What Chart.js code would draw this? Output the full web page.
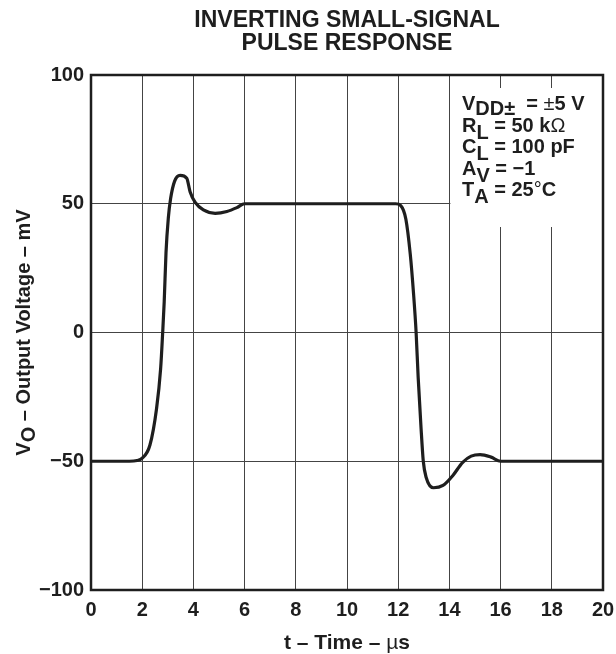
<!DOCTYPE html>
<html>
<head>
<meta charset="utf-8">
<script src="https://cdn.jsdelivr.net/npm/chart.js@4.4.1/dist/chart.umd.min.js"></script>
<style>
  html, body { margin: 0; padding: 0; background: #fff; }
</style>
</head>
<body>
<canvas id="chart" width="616" height="654"></canvas>
<script>
// Inverting small-signal pulse response: output voltage (mV) vs time (us)
const timeUs = [0, 1.5, 1.8, 2.0, 2.3, 2.56, 2.72, 2.8, 2.86, 2.93, 3.02, 3.11, 3.26, 3.48, 3.74, 3.87,
  4.07, 4.39, 4.85, 5.31, 5.7, 6.0, 11.9, 12.1, 12.3, 12.47, 12.6, 12.7, 12.78, 12.89, 12.98, 13.09,
  13.38, 13.75, 14.13, 14.52, 14.85, 15.2, 15.63, 16.0, 20];
const outputMv = [-50, -50, -49.7, -48.8, -43.8, -29.6, -14, 0, 12, 31, 44.4, 52, 58.6, 61, 59.9, 54.7,
  50.5, 47.6, 46.3, 47, 48.5, 50, 50, 49.3, 44, 30.5, 15, 0, -17.4, -36.7, -50, -56.2,
  -60.3, -59.4, -55.6, -50.4, -48, -47.4, -48.4, -50, -50];

const xTicks = [0, 2, 4, 6, 8, 10, 12, 14, 16, 18, 20];
const yTicks = [-100, -50, 0, 50, 100];

const titleLines = ['INVERTING SMALL-SIGNAL', 'PULSE RESPONSE'];

// test conditions, drawn in the upper right box (sub = subscript drop, thin = regular weight)
const conditions = [
  [{ t: 'V' }, { t: 'DD\u00b1', sub: 5 }, { t: '  = ' }, { t: '\u00b1', thin: true }, { t: '5 V' }],
  [{ t: 'R' }, { t: 'L', sub: 7 }, { t: ' = 50 k' }, { t: '\u03a9', thin: true }],
  [{ t: 'C' }, { t: 'L', sub: 7 }, { t: ' = 100 pF' }],
  [{ t: 'A' }, { t: 'V', sub: 7 }, { t: ' = \u22121' }],
  [{ t: 'T' }, { t: 'A', sub: 7 }, { t: ' = 25' }, { t: '\u00b0', thin: true }, { t: 'C' }]
];
const yTitle = [{ t: 'V' }, { t: 'O', sub: 5 }, { t: ' \u2013 Output Voltage \u2013 mV' }];
const xTitle = [{ t: 't \u2013 Time \u2013 ' }, { t: '\u00b5', thin: true }, { t: 's' }];

const FONT = '"Liberation Sans", Arial, Helvetica, sans-serif';
const INK = '#1e1e1e';

function richWidth(ctx, parts, size) {
  let w = 0;
  parts.forEach(p => {
    ctx.font = (p.thin ? 'normal ' : 'bold ') + size + 'px ' + FONT;
    w += ctx.measureText(p.t).width;
  });
  return w;
}

function drawRich(ctx, parts, x, y, size) {
  parts.forEach(p => {
    ctx.font = (p.thin ? 'normal ' : 'bold ') + size + 'px ' + FONT;
    ctx.fillText(p.t, x, y + (p.sub || 0));
    x += ctx.measureText(p.t).width;
  });
}

const decorations = {
  id: 'decorations',
  beforeDatasetsDraw(chart) {
    const { ctx, chartArea: a, scales: { x } } = chart;
    ctx.save();
    // white panel for the conditions, hiding the grid behind it
    const left = x.getPixelForValue(14) + 1;
    ctx.fillStyle = '#fff';
    ctx.fillRect(left, a.top + 13, a.right - left - 1, 139);
    ctx.fillStyle = INK;
    ctx.textBaseline = 'alphabetic';
    ctx.textAlign = 'left';
    conditions.forEach((line, i) => drawRich(ctx, line, 462, 110 + i * 21.5, 20));
    ctx.restore();
  },
  afterDatasetsDraw(chart) {
    const { ctx, chartArea: a } = chart;
    ctx.save();
    // heavy frame round the plot
    ctx.strokeStyle = INK;
    ctx.lineWidth = 2.5;
    ctx.strokeRect(a.left, a.top, a.right - a.left, a.bottom - a.top);

    ctx.fillStyle = INK;
    ctx.textAlign = 'center';
    ctx.textBaseline = 'alphabetic';
    ctx.font = 'bold 23px ' + FONT;
    const cx = (a.left + a.right) / 2;
    ctx.fillText(titleLines[0], cx, 27);
    ctx.fillText(titleLines[1], cx, 49.5);

    ctx.textAlign = 'left';
    const xw = richWidth(ctx, xTitle, 21);
    drawRich(ctx, xTitle, cx - xw / 2, 649, 21);

    const yw = richWidth(ctx, yTitle, 20);
    ctx.translate(29.5, (a.top + a.bottom) / 2);
    ctx.rotate(-Math.PI / 2);
    drawRich(ctx, yTitle, -yw / 2, 0, 20);
    ctx.restore();
  }
};

const ctx = document.getElementById('chart').getContext('2d');
const myChart = new Chart(ctx, {
  type: 'line',
  data: {
    datasets: [{
      data: timeUs.map((t, i) => ({ x: t, y: outputMv[i] })),
      borderColor: INK,
      borderWidth: 3.2,
      pointRadius: 0,
      fill: false,
      cubicInterpolationMode: 'monotone'
    }]
  },
  options: {
    responsive: false,
    animation: false,
    layout: { padding: { top: 75, right: 13, left: 0, bottom: 0 } },
    plugins: { legend: { display: false }, tooltip: { enabled: false }, title: { display: false } },
    scales: {
      x: {
        type: 'linear',
        min: 0,
        max: 20,
        afterBuildTicks: s => { s.ticks = xTicks.map(v => ({ value: v })); },
        afterFit: s => { s.height = 64; s.paddingLeft = 0; s.paddingRight = 0; },
        border: { display: false },
        grid: { color: '#444', lineWidth: 1, drawTicks: false },
        ticks: {
          color: INK,
          padding: 8,
          maxRotation: 0,
          font: { family: FONT, size: 20, weight: 'bold' }
        }
      },
      y: {
        min: -100,
        max: 100,
        afterBuildTicks: s => { s.ticks = yTicks.map(v => ({ value: v })); },
        afterFit: s => { s.width = 91; s.paddingTop = 0; s.paddingBottom = 0; },
        border: { display: false },
        grid: { color: '#444', lineWidth: 1, drawTicks: false },
        ticks: {
          color: INK,
          padding: 7,
          font: { family: FONT, size: 20, weight: 'bold' },
          callback: v => String(v).replace('-', '\u2212')
        }
      }
    }
  },
  plugins: [decorations]
});
</script>
</body>
</html>
